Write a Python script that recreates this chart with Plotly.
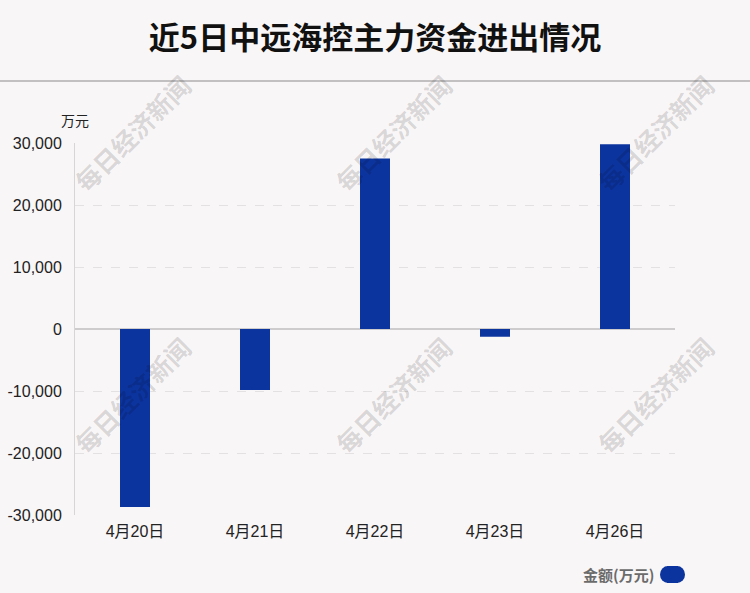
import plotly.graph_objects as go

categories = ["4月20日", "4月21日", "4月22日", "4月23日", "4月26日"]
values = [-28700, -9850, 27500, -1250, 29800]
yticks = [-30000, -20000, -10000, 0, 10000, 20000, 30000]
ytick_text = ["-30,000", "-20,000", "-10,000", "0", "10,000", "20,000", "30,000"]

W, H = 750, 593
L, R, T, B = 75, 75, 143, 78
PW, PH = W - L - R, H - T - B

def px(x):
    return (x - L) / PW

def py(y):
    return (H - B - y) / PH

BG = "#f9f6f7"
BAR = "#0c349f"
FONT = "Liberation Sans, Arial, Noto Sans CJK SC, sans-serif"

fig = go.Figure()
fig.add_trace(go.Bar(x=categories, y=values, marker=dict(color=BAR, line=dict(width=0)),
                     name="金额(万元)", showlegend=False))

fig.update_layout(
    width=W, height=H,
    margin=dict(l=L, r=R, t=T, b=B, autoexpand=False),
    paper_bgcolor=BG, plot_bgcolor=BG,
    bargap=0.75,
    title=dict(text="<b>近5日中远海控主力资金进出情况</b>", x=0.5, xanchor="center",
               y=1 - 38 / H, yanchor="middle", yref="container",
               font=dict(family="Noto Sans CJK SC", size=31, color="#111")),
    xaxis=dict(range=[-0.5, 4.5], showgrid=False, zeroline=False, showline=False,
               automargin=False, ticklabelstandoff=5,
               ticks="", tickfont=dict(family=FONT, size=16, color="#222")),
    yaxis=dict(range=[-30000, 30000], tickvals=yticks, ticktext=ytick_text,
               showgrid=True, gridcolor="#e4e1e2", griddash="dash", gridwidth=1,
               zeroline=True, zerolinecolor="#cfcccd", zerolinewidth=2,
               showline=True, linecolor="#d8d5d6", linewidth=1,
               automargin=False,
               ticks="", ticklabelstandoff=9,
               tickfont=dict(family=FONT, size=16, color="#222")),
    font=dict(family=FONT),
)

# separator line under title
fig.add_shape(type="line", xref="paper", yref="paper", x0=px(0), x1=px(W), y0=py(81), y1=py(81),
              line=dict(color="#c2c0c1", width=2))

# unit label
fig.add_annotation(text="万元", xref="paper", yref="paper", x=px(75), y=py(120),
                   showarrow=False, font=dict(family="Noto Sans CJK SC", size=14, color="#222"),
                   xanchor="center", yanchor="middle")

# legend (text + pill marker)
fig.add_annotation(text="<b>金额(万元)</b>", xref="paper", yref="paper", x=px(656), y=py(574),
                   showarrow=False, xanchor="right", yanchor="middle",
                   font=dict(family="Noto Sans CJK SC", size=15, color="#6b6b6b"))
fig.add_shape(type="rect", xref="paper", yref="paper", x0=px(667), x1=px(678), y0=py(583), y1=py(566),
              fillcolor=BAR, line=dict(color=BAR, width=0), layer="above")
fig.add_shape(type="circle", xref="paper", yref="paper", x0=px(660), x1=px(676), y0=py(583), y1=py(566),
              fillcolor=BAR, line=dict(width=0), layer="above")
fig.add_shape(type="circle", xref="paper", yref="paper", x0=px(669), x1=px(685), y0=py(583), y1=py(566),
              fillcolor=BAR, line=dict(width=0), layer="above")

# watermarks
for cx in (132, 393, 655):
    for cy in (133, 395):
        fig.add_annotation(text="<b>每日经济新闻</b>", xref="paper", yref="paper", x=px(cx), y=py(cy),
                           showarrow=False, textangle=-45, xanchor="center", yanchor="middle",
                           font=dict(family="Noto Sans CJK SC", size=25, color="rgba(0,0,0,0.14)"))

fig.write_html("out.html", config={"displayModeBar": False},
               post_script="document.body.style.margin='0';document.body.style.background='%s';" % BG)
